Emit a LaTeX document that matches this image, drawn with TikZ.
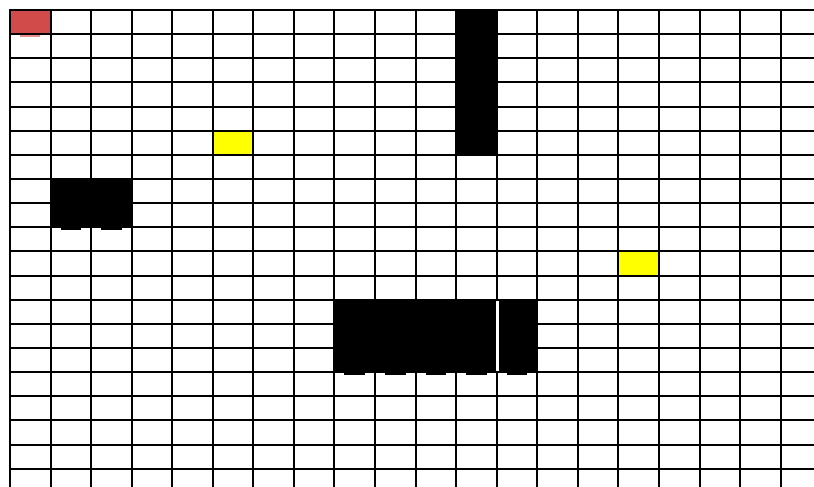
\documentclass[tikz,border=0pt]{standalone}
\definecolor{cellred}{RGB}{209,75,75}
\definecolor{barred}{RGB}{232,140,140}
\definecolor{cellyellow}{RGB}{255,255,0}
\newcommand\cw{40.56}
\newcommand\ch{24.14}
\begin{document}
\begin{tikzpicture}[x=1pt,y=-1pt,
  gridline/.style={line width=2pt,black},
  blackcell/.style={fill=black},
  redcell/.style={fill=cellred},
  yellowcell/.style={fill=cellyellow},
  blackbar/.style={fill=black},
  redbar/.style={fill=barred}]
\useasboundingbox (0,0) rectangle (814,487);
\fill[white] (0,0) rectangle (814,487);
% coloured cells
\foreach \c/\r/\st in {0/0/redcell,5/5/yellowcell,15/10/yellowcell}
  \path[\st] ({10+\c*\cw},{10+\r*\ch}) rectangle ({10+(\c+1)*\cw},{10+(\r+1)*\ch});
% grid
\begin{scope}
\clip (0,0) rectangle (814,487);
\foreach \i in {0,...,20}
  \draw[gridline] ({10+\i*\cw},9) -- ({10+\i*\cw},487);
\foreach \j in {0,...,20}
  \draw[gridline] (9,{10+\j*\ch}) -- (814,{10+\j*\ch});
\end{scope}
% black blocks
\foreach \c/\r in {11/0,11/1,11/2,11/3,11/4,11/5,
                   1/7,2/7,1/8,2/8,
                   8/12,9/12,10/12,11/12,12/12,
                   8/13,9/13,10/13,11/13,12/13,
                   8/14,9/14,10/14,11/14,12/14}
  \path[blackcell] ({10+\c*\cw-1},{10+\r*\ch-1}) rectangle ({10+(\c+1)*\cw+1},{10+(\r+1)*\ch+1});
% white gap between columns 11 and 12
\fill[white] (496.4,{10+12*\ch+1}) rectangle (498.7,{10+15*\ch-1});
% small bars under bottom cells
\foreach \c/\r in {1/8,2/8,8/14,9/14,10/14,11/14,12/14}
  \path[blackbar] ({10+\c*\cw+10},{10+(\r+1)*\ch}) rectangle ({10+\c*\cw+30.5},{10+(\r+1)*\ch+2.8});
\path[redbar] (20,35) rectangle (40,37.3);
\end{tikzpicture}
\end{document}
